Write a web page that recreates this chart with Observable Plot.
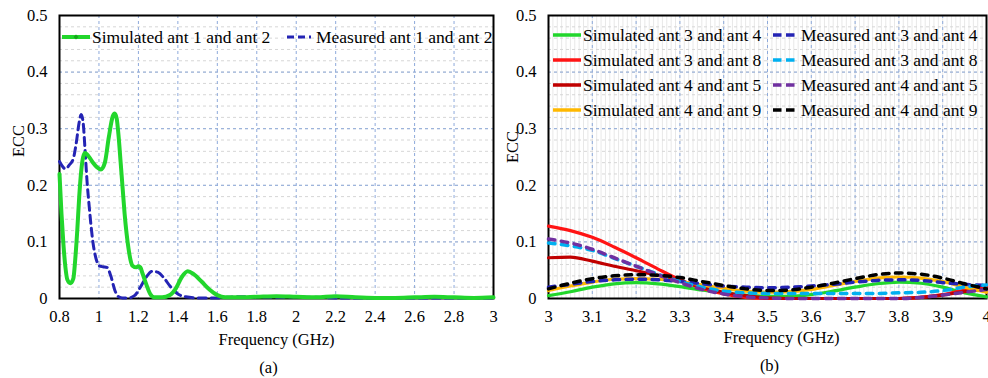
<!DOCTYPE html>
<html><head><meta charset="utf-8">
<script src="https://cdn.jsdelivr.net/npm/d3@7"></script>
<script src="https://cdn.jsdelivr.net/npm/@observablehq/plot@0.6"></script>
<style>
body{margin:0;background:#fff}
#wrap{display:flex;width:988px;height:378px;overflow:hidden}
#wrap svg{font-family:'Liberation Serif','Times New Roman',serif}
</style>
</head><body><div id="wrap"></div>
<script>
const FONT = "Liberation Serif";

// ---------- Panel (a): ant 1 and ant 2 ----------
const fSimA = [0.80,0.81,0.82,0.83,0.84,0.855,0.87,0.88,0.89,0.90,0.91,0.92,0.93,0.95,0.97,0.99,1.01,1.03,1.05,1.07,1.08,1.09,1.10,1.11,1.12,1.13,1.14,1.15,1.16,1.17,1.19,1.20,1.21,1.22,1.24,1.26,1.28,1.32,1.36,1.39,1.42,1.45,1.48,1.52,1.56,1.60,1.64,1.70,1.80,1.90,2.00,2.10,2.20,2.30,2.40,2.50,2.60,2.70,2.80,2.90,3.00];
const vSimA = [0.220,0.150,0.095,0.055,0.033,0.027,0.035,0.070,0.120,0.180,0.225,0.250,0.257,0.250,0.240,0.232,0.228,0.240,0.285,0.322,0.327,0.318,0.285,0.240,0.195,0.150,0.115,0.088,0.068,0.058,0.055,0.057,0.055,0.045,0.025,0.008,0.002,0.002,0.006,0.018,0.038,0.048,0.043,0.030,0.016,0.006,0.002,0.002,0.003,0.004,0.003,0.002,0.004,0.002,0.001,0.001,0.002,0.003,0.002,0.001,0.002];
const fMeasA = [0.80,0.81,0.83,0.85,0.87,0.885,0.90,0.91,0.92,0.93,0.94,0.95,0.96,0.97,0.98,0.99,1.00,1.02,1.04,1.06,1.08,1.10,1.12,1.15,1.18,1.21,1.24,1.27,1.30,1.33,1.36,1.40,1.44,1.50,1.60,1.70,1.80,1.90,2.00,2.10,2.20,2.40,2.60,2.80,3.00];
const vMeasA = [0.242,0.236,0.229,0.236,0.247,0.275,0.312,0.325,0.310,0.260,0.205,0.165,0.128,0.098,0.078,0.065,0.058,0.056,0.055,0.040,0.015,0.003,0.001,0.001,0.005,0.020,0.038,0.048,0.046,0.036,0.022,0.008,0.003,0.001,0.001,0.003,0.003,0.002,0.003,0.002,0.001,0.001,0.001,0.001,0.001];
const xTicksA = [0.8,1,1.2,1.4,1.6,1.8,2,2.2,2.4,2.6,2.8,3];

// ---------- Panel (b): other antenna pairs ----------
const fB  = [3.00,3.05,3.10,3.15,3.20,3.25,3.30,3.35,3.40,3.45,3.50,3.55,3.60,3.65,3.70,3.75,3.80,3.85,3.90,3.95,4.00];
const s34 = [0.005,0.012,0.020,0.026,0.028,0.026,0.021,0.015,0.010,0.006,0.004,0.004,0.007,0.013,0.020,0.026,0.029,0.027,0.020,0.010,0.003];
const s38 = [0.128,0.120,0.108,0.091,0.072,0.052,0.033,0.018,0.008,0.002,0.000,0.000,0.000,0.000,0.000,0.000,0.000,0.002,0.007,0.015,0.020];
const s45 = [0.072,0.073,0.066,0.057,0.049,0.041,0.031,0.020,0.011,0.005,0.001,0.000,0.000,0.000,0.000,0.000,0.000,0.002,0.006,0.012,0.017];
const s49 = [0.014,0.022,0.029,0.034,0.035,0.034,0.030,0.024,0.018,0.013,0.011,0.012,0.016,0.023,0.030,0.036,0.038,0.036,0.030,0.020,0.011];
const m34 = [0.020,0.025,0.030,0.033,0.034,0.033,0.030,0.026,0.022,0.020,0.019,0.020,0.022,0.025,0.029,0.032,0.033,0.032,0.028,0.025,0.023];
const m38 = [0.098,0.093,0.085,0.071,0.057,0.043,0.030,0.020,0.013,0.010,0.009,0.009,0.009,0.009,0.009,0.009,0.010,0.011,0.014,0.020,0.024];
const m45 = [0.105,0.098,0.087,0.072,0.057,0.042,0.028,0.016,0.008,0.003,0.001,0.000,0.000,0.000,0.000,0.000,0.000,0.002,0.006,0.011,0.016];
const m49 = [0.017,0.027,0.035,0.040,0.042,0.041,0.037,0.030,0.023,0.017,0.014,0.015,0.020,0.027,0.035,0.042,0.045,0.043,0.036,0.026,0.017];
const xTicksB = [3,3.1,3.2,3.3,3.4,3.5,3.6,3.7,3.8,3.9,4];

const yTicks = [0,0.1,0.2,0.3,0.4,0.5];
const yMinor = d3.range(0.02, 0.5, 0.02);
const xMinorB = d3.range(3.01, 4.0, 0.01);

const labelsA = ["Simulated ant 1 and ant 2","Measured ant 1 and ant 2"];
const labelsBsim = ["Simulated ant 3 and ant 4","Simulated ant 3 and ant 8","Simulated ant 4 and ant 5","Simulated ant 4 and ant 9"];
const labelsBmeas = ["Measured ant 3 and ant 4","Measured ant 3 and ant 8","Measured ant 4 and ant 5","Measured ant 4 and ant 9"];

const GREEN = "#22d62c", DBLUE = "#2424b4", GRID = "#8eaadb";
const colSim = ["#22d62c","#ff1414","#c00000","#ffb800"];
const colMeas = ["#2424b4","#00b0f0","#7030a0","#000000"];

const rows = (fs, vs) => fs.map((f, i) => ({f, v: vs[i]}));
const TXT = {fontFamily: FONT, fontSize: 16.5, fill: "#000"};

function panel(o) {
  const svg = Plot.plot({
    width: 494, height: 378,
    marginLeft: o.ml, marginRight: o.mr, marginTop: 15, marginBottom: 80,
    x: {domain: o.xDomain}, y: {domain: [0, 0.5]},
    style: "font-family: 'Liberation Serif', serif; font-size: 16.5px; color: #000; background: transparent; overflow: visible;",
    marks: [
      o.xMinor ? Plot.gridX(o.xMinor, {stroke: "#e8e8e8", strokeOpacity: 1, strokeWidth: 1}) : null,
      Plot.gridY(yMinor, {stroke: "#d6d6d6", strokeOpacity: 1, strokeDasharray: "3,3"}),
      Plot.gridX(o.xTicks, {stroke: GRID, strokeOpacity: 1, strokeDasharray: "3,3"}),
      Plot.gridY(yTicks, {stroke: GRID, strokeOpacity: 1, strokeDasharray: "3,3"}),
      Plot.frame({stroke: "#000", strokeWidth: 2}),
      Plot.axisX(o.xTicks, {tickSize: 0, tickPadding: 12, tickFormat: d => String(d), label: null, ...TXT}),
      Plot.axisY(yTicks, {tickSize: 0, tickPadding: 12, tickFormat: d => String(d), label: null, ...TXT}),
      ...o.lines,
      Plot.text([o.xLabel], {text: d => d, frameAnchor: "bottom", dy: o.xlDy, dx: o.xlDx, lineAnchor: "middle", ...TXT}),
      Plot.text(["ECC"], {text: d => d, frameAnchor: "left", rotate: -90, dx: o.ecDx, dy: o.ecDy, lineAnchor: "middle", ...TXT}),
      Plot.text([o.caption], {text: d => d, frameAnchor: "bottom", dy: o.capDy, dx: o.capDx, lineAnchor: "middle", ...TXT})
    ]
  });
  return svg;
}

function drawLegend(svg, items) {
  const g = d3.select(svg).append("g").attr("font-family", "'Liberation Serif', serif").attr("font-size", 17.5);
  for (const it of items) {
    g.append("line").attr("x1", it.x).attr("x2", it.x + it.w).attr("y1", it.y).attr("y2", it.y)
      .attr("stroke", it.color).attr("stroke-width", it.sw)
      .attr("stroke-dasharray", it.dash || null).attr("stroke-linecap", it.cap || "butt");
    if (it.marker) {
      g.append("path").attr("d", `M${it.x + it.w/2},${it.y-2.5}l2.5,2.5l-2.5,2.5l-2.5,-2.5z`).attr("fill", "#12a81a");
    }
    g.append("text").attr("x", it.tx).attr("y", it.y).attr("dy", "0.32em")
      .attr("text-anchor", "start").style("text-anchor", "start")
      .attr("fill", "#000").text(it.label);
  }
}

// Panel (a)
const svgA = panel({
  ml: 59, mr: 1, xDomain: [0.8, 3], xTicks: xTicksA, xMinor: null,
  xLabel: "Frequency (GHz)", xlDy: 41, xlDx: 0,
  ecDx: -41, ecDy: 0,
  caption: "(a)", capDy: 69, capDx: -8,
  lines: [
    Plot.line(rows(fMeasA, vMeasA), {x: "f", y: "v", stroke: DBLUE, strokeWidth: 3, strokeDasharray: "8,5", curve: "monotone-x"}),
    Plot.line(rows(fSimA, vSimA), {x: "f", y: "v", stroke: GREEN, strokeWidth: 4, curve: "monotone-x"})
  ]
});
drawLegend(svgA, [
  {x: 62, w: 28, y: 37, tx: 92, color: GREEN, sw: 4, marker: true, label: labelsA[0]},
  {x: 287, w: 24, y: 37, tx: 316, color: DBLUE, sw: 3, dash: "7,4", label: labelsA[1]}
]);

// Panel (b)
const simSeries = [s34, s38, s45, s49];
const measSeries = [m34, m38, m45, m49];
const svgB = panel({
  ml: 54, mr: 2, xDomain: [3, 4], xTicks: xTicksB, xMinor: xMinorB,
  xLabel: "Frequency (GHz)", xlDy: 39, xlDx: 14,
  ecDx: -36, ecDy: 6,
  caption: "(b)", capDy: 67, capDx: 2,
  lines: [
    ...simSeries.map((s, i) => Plot.line(rows(fB, s), {x: "f", y: "v", stroke: colSim[i], strokeWidth: 3.2, curve: "monotone-x"})),
    ...measSeries.map((s, i) => Plot.line(rows(fB, s), {x: "f", y: "v", stroke: colMeas[i], strokeWidth: 3.5, strokeDasharray: "6.5,6.5", strokeLinecap: "round", curve: "monotone-x"}))
  ]
});
const rowY = [35, 60, 85, 110];
drawLegend(svgB, [
  ...labelsBsim.map((l, i) => ({x: 59, w: 28, y: rowY[i], tx: 89, color: colSim[i], sw: 3.5, label: l})),
  ...labelsBmeas.map((l, i) => ({x: 279, w: 23, y: rowY[i], tx: 307, color: colMeas[i], sw: 3.5, dash: "8.5,4.5", label: l}))
]);

document.getElementById("wrap").append(svgA, svgB);
</script>
</body></html>
